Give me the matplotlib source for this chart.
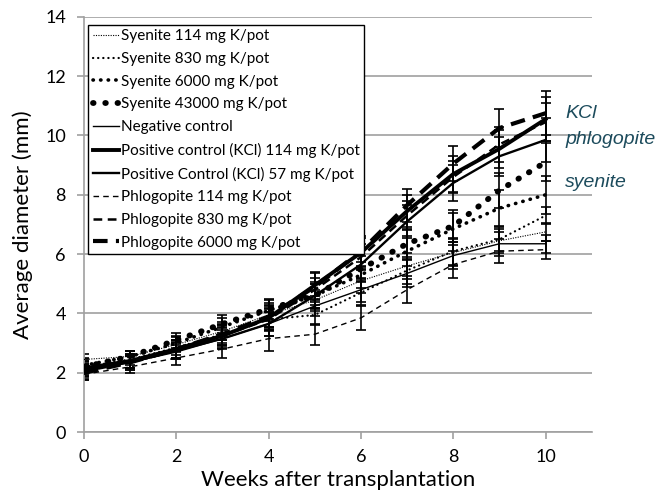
import numpy as np
import matplotlib
matplotlib.use('Agg')
import matplotlib.pyplot as plt

# weeks after transplantation
weeks = [0, 1, 2, 3, 4, 5, 6, 7, 8, 9, 10]

# average diameter (mm) per treatment
syenite_114 = [2.45, 2.55, 2.95, 3.4, 3.95, 4.45, 5.1, 5.6, 6.05, 6.45, 6.75]
syenite_830 = [2.2, 2.45, 2.85, 3.3, 3.8, 3.95, 4.7, 5.45, 6.1, 6.5, 7.3]
syenite_6000 = [2.25, 2.55, 3.0, 3.55, 4.1, 4.6, 5.3, 6.1, 6.85, 7.55, 8.0]
syenite_43000 = [2.2, 2.55, 3.1, 3.65, 4.15, 4.6, 5.5, 6.35, 6.95, 8.15, 9.1]
negative = [2.1, 2.35, 2.7, 3.15, 3.65, 4.25, 4.8, 5.35, 5.95, 6.35, 6.35]
kcl_114 = [2.15, 2.4, 2.8, 3.25, 3.85, 4.95, 6.05, 7.45, 8.7, 9.55, 10.55]
kcl_57 = [2.1, 2.35, 2.75, 3.15, 3.65, 4.6, 5.65, 7.1, 8.4, 9.3, 9.85]
phlog_114 = [1.95, 2.2, 2.5, 2.8, 3.15, 3.3, 3.85, 4.8, 5.65, 6.1, 6.15]
phlog_830 = [2.05, 2.35, 2.75, 3.25, 3.8, 4.8, 5.9, 7.3, 8.6, 9.7, 10.45]
phlog_6000 = [2.0, 2.35, 2.8, 3.3, 3.9, 4.9, 6.1, 7.65, 9.05, 10.25, 10.75]

# standard errors (approximate)
err_a = [0.25, 0.2, 0.25, 0.3, 0.35, 0.4, 0.45, 0.5, 0.55, 0.6, 0.65]
err_b = [0.2, 0.2, 0.25, 0.3, 0.4, 0.35, 0.4, 0.45, 0.45, 0.4, 0.3]
err_c = [0.25, 0.25, 0.3, 0.35, 0.4, 0.45, 0.5, 0.55, 0.6, 0.65, 0.75]

labels = ['Syenite 114 mg K/pot', 'Syenite 830 mg K/pot', 'Syenite 6000 mg K/pot',
          'Syenite 43000 mg K/pot', 'Negative control',
          'Positive control (KCl) 114 mg K/pot', 'Positive Control (KCl) 57 mg K/pot',
          'Phlogopite 114 mg K/pot', 'Phlogopite 830 mg K/pot', 'Phlogopite 6000 mg K/pot']
series = [syenite_114, syenite_830, syenite_6000, syenite_43000, negative,
          kcl_114, kcl_57, phlog_114, phlog_830, phlog_6000]
errors = [err_b, err_b, err_a, err_a, err_b, err_c, err_c, err_b, err_a, err_c]

# line styles: (linewidth, dash pattern, capstyle)
styles = [
    (0.8, (0, (1, 1.2)), 'butt'),
    (1.6, (0, (0.1, 2.2)), 'round'),
    (2.6, (0, (0.1, 2.0)), 'round'),
    (4.2, (0, (0.1, 2.0)), 'round'),
    (1.0, '-', 'butt'),
    (2.8, '-', 'butt'),
    (1.7, '-', 'butt'),
    (1.0, (0, (4, 3)), 'butt'),
    (1.8, (0, (3.5, 2.2)), 'butt'),
    (3.0, (0, (3.5, 2)), 'butt'),
]

plt.rcParams['font.family'] = ['Lato', 'DejaVu Sans']

fig = plt.figure(figsize=(6.56, 4.95), dpi=100)
ax = fig.add_axes([0.128, 0.127, 0.774, 0.839])

for y, e, lab, (lw, ls, cap) in zip(series, errors, labels, styles):
    ax.errorbar(weeks, y, yerr=e, fmt='none', ecolor='black', elinewidth=1.2,
                capsize=3.5, capthick=1.2, zorder=2)
    line, = ax.plot(weeks, y, color='black', linewidth=lw, linestyle=ls,
                    label=lab, zorder=3)
    line.set_dash_capstyle(cap)

ax.set_xlim(0, 11)
ax.set_ylim(0, 14)
ax.set_xticks([0, 2, 4, 6, 8, 10])
ax.set_yticks(np.arange(0, 15, 2))
ax.yaxis.grid(True, color='#a0a0a0', linewidth=1.2)
ax.set_axisbelow(True)
for s in ['top', 'right']:
    ax.spines[s].set_visible(False)
for s in ['left', 'bottom']:
    ax.spines[s].set_color('#a0a0a0')
    ax.spines[s].set_linewidth(1.2)
ax.tick_params(axis='both', colors='#a0a0a0', length=5, width=1.2,
               labelcolor='black', labelsize=13)
ax.tick_params(axis='y', pad=8)
ax.tick_params(axis='x', pad=7)

ax.set_xlabel('Weeks after transplantation', fontsize=16, labelpad=4)
ax.set_ylabel('Average diameter (mm)', fontsize=16, labelpad=9)

leg = ax.legend(loc='upper left', bbox_to_anchor=(0.008, 0.981), fontsize=11,
                frameon=True, fancybox=False, framealpha=1.0,
                handlelength=1.75, handletextpad=0.1,
                labelspacing=0.57, borderpad=0.3, borderaxespad=0)
leg.get_frame().set_edgecolor('black')
leg.get_frame().set_linewidth(1.0)
leg.set_zorder(10)

# group labels on the right
teal = '#1c4b5c'
ax.text(10.43, 10.75, 'KCl', color=teal, fontsize=14, style='italic',
        family='Liberation Sans', va='center')
ax.text(10.43, 9.85, 'phlogopite', color=teal, fontsize=14, style='italic',
        family='Liberation Sans', va='center')
ax.text(10.43, 8.4, 'syenite', color=teal, fontsize=14, style='italic',
        family='Liberation Sans', va='center')

fig.savefig('out.png', dpi=100)
